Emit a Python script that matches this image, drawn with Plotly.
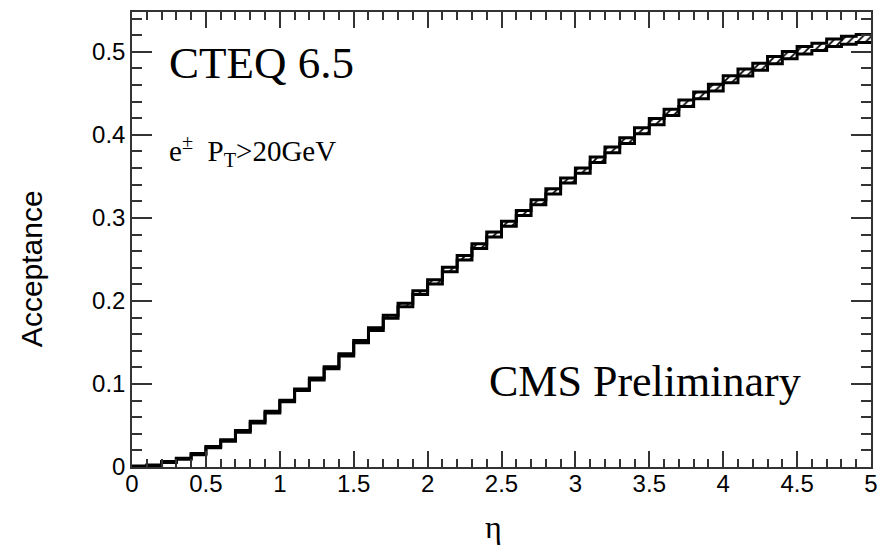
import plotly.graph_objects as go

# Bin edges (eta) and acceptance values per bin
bin_edges = [round(0.1 * i, 1) for i in range(51)]
acceptance = [0.001, 0.002, 0.006, 0.010, 0.0155, 0.024, 0.032, 0.043, 0.054, 0.066,
              0.0795, 0.093, 0.106, 0.1195, 0.135, 0.151, 0.166, 0.181, 0.195, 0.210,
              0.223, 0.238, 0.252, 0.266, 0.280, 0.293, 0.306, 0.319, 0.332, 0.345,
              0.357, 0.370, 0.382, 0.393, 0.405, 0.416, 0.427, 0.438, 0.4475, 0.457,
              0.467, 0.475, 0.482, 0.490, 0.496, 0.502, 0.506, 0.511, 0.514, 0.516]
uncert = [0.0003, 0.0004, 0.0005, 0.0006, 0.0007, 0.0008, 0.0009, 0.001, 0.001, 0.001,
          0.001, 0.001, 0.0011, 0.0012, 0.0013, 0.0015, 0.0017, 0.0019, 0.0021, 0.0023,
          0.0026, 0.0027, 0.0028, 0.0029, 0.003, 0.003, 0.003, 0.003, 0.0031, 0.0031,
          0.0031, 0.0033, 0.0034, 0.0035, 0.0036, 0.0037, 0.0038, 0.0039, 0.004, 0.004,
          0.0041, 0.0042, 0.0043, 0.0043, 0.0044, 0.0045, 0.0045, 0.0046, 0.0047, 0.0048]

lower = [a - e for a, e in zip(acceptance, uncert)]
upper = [a + e for a, e in zip(acceptance, uncert)]
lower_steps = lower + [lower[-1]]
upper_steps = upper + [upper[-1]]

fig = go.Figure()
fig.add_trace(go.Scatter(x=bin_edges, y=lower_steps, mode="lines", line_shape="hv",
                         line=dict(color="black", width=3), hoverinfo="skip",
                         showlegend=False))
fig.add_trace(go.Scatter(x=bin_edges, y=upper_steps, mode="lines", line_shape="hv",
                         line=dict(color="black", width=3), fill="tonexty",
                         fillpattern=dict(shape="/", fgcolor="black", bgcolor="white",
                                          size=6, solidity=0.3, fillmode="replace"),
                         hoverinfo="skip", showlegend=False))

axis_common = dict(showline=True, linecolor="#333333", linewidth=1.5, mirror="allticks",
                   ticks="inside", tickcolor="#333333", tickwidth=1.5,
                   showgrid=False, zeroline=False,
                   tickfont=dict(family="Liberation Sans, Arial, sans-serif", size=24,
                                 color="black"))

fig.update_xaxes(range=[0, 5], dtick=0.5, tick0=0, ticklen=16, ticklabelstandoff=-6,
                 minor=dict(dtick=0.1, ticks="inside", ticklen=8, tickcolor="#333333",
                            tickwidth=1.5, showgrid=False),
                 **axis_common)
fig.update_yaxes(range=[0, 0.548], dtick=0.1, tick0=0, ticklen=20,
                 minor=dict(dtick=0.02, ticks="inside", ticklen=10, tickcolor="#333333",
                            tickwidth=1.5, showgrid=False),
                 **axis_common)

serif = "Liberation Serif, Times New Roman, serif"
sans = "Liberation Sans, Arial, sans-serif"
fig.add_annotation(x=0.235, y=0.487, xref="x", yref="y", text="CTEQ 6.5",
                   showarrow=False, xanchor="left", yanchor="middle",
                   font=dict(family=serif, size=45, color="black"))
fig.add_annotation(x=0.235, y=0.380, xref="x", yref="y",
                   text="e<sup>±</sup>\u00a0\u00a0P<sub>T</sub>>20GeV",
                   showarrow=False, xanchor="left", yanchor="middle",
                   font=dict(family=serif, size=29, color="black"))
fig.add_annotation(x=2.403, y=0.103, xref="x", yref="y", text="CMS Preliminary",
                   showarrow=False, xanchor="left", yanchor="middle",
                   font=dict(family=serif, size=44, color="black"))
fig.add_annotation(x=0.4886, y=-0.131, xref="paper", yref="paper", text="η",
                   showarrow=False, xanchor="center", yanchor="middle",
                   font=dict(family=serif, size=32, color="black"))
fig.add_annotation(x=-0.135, y=0.4354, xref="paper", yref="paper", text="Acceptance",
                   showarrow=False, xanchor="center", yanchor="middle", textangle=-90,
                   font=dict(family=sans, size=30, color="black"))

fig.update_layout(width=888, height=549, margin=dict(l=132, r=11, t=10, b=82),
                  paper_bgcolor="white", plot_bgcolor="white", showlegend=False)

fig.write_html("out.html")
